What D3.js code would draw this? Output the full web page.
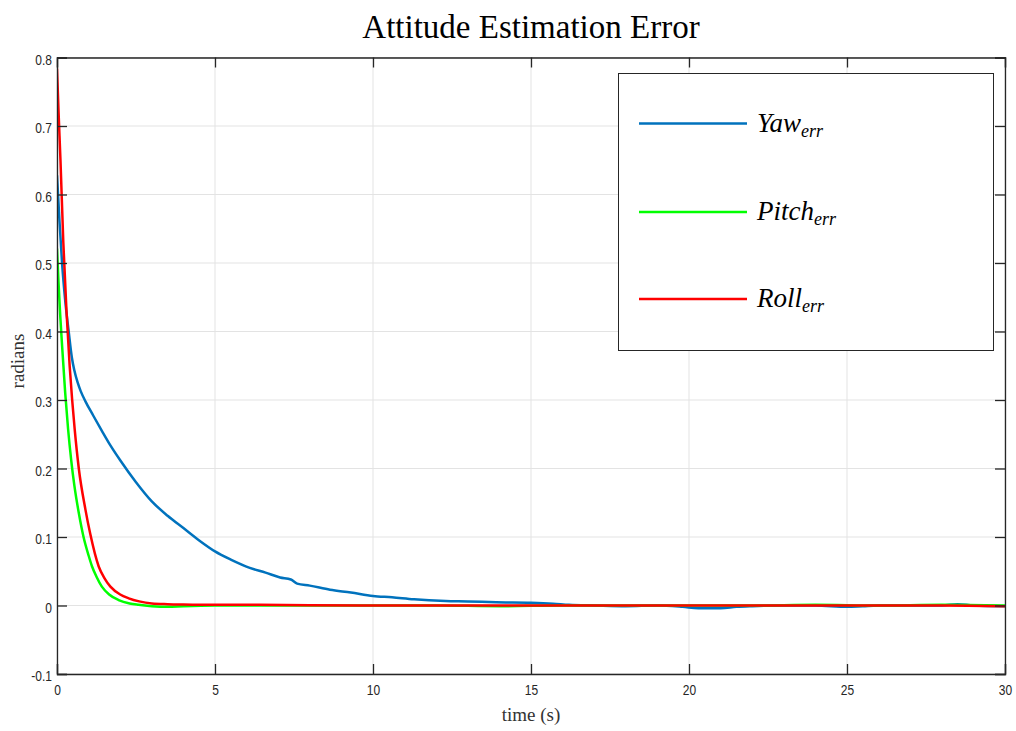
<!DOCTYPE html>
<html><head><meta charset="utf-8">
<script src="https://cdn.jsdelivr.net/npm/d3@7"></script>
<style>body{margin:0;background:#fff}</style>
</head><body>
<svg id="c" width="1016" height="731"></svg>
<script>
// ---- data ----
const xTicks = [0, 5, 10, 15, 20, 25, 30];
const yTicks = [-0.1, 0, 0.1, 0.2, 0.3, 0.4, 0.5, 0.6, 0.7, 0.8];
const yTickLabels = ["-0.1", "0", "0.1", "0.2", "0.3", "0.4", "0.5", "0.6", "0.7", "0.8"];
const seriesNames = ["Yaw", "Pitch", "Roll"];
const seriesSub = "err";

const yawT = [0, 0.08, 0.16, 0.26, 0.37, 0.47, 0.55, 0.65, 0.75, 0.9, 1.15, 1.42, 1.7, 2.0, 2.5, 3.0, 3.5, 4.0, 4.5, 5.0, 5.5, 6.1, 6.6, 7.06, 7.4, 7.6, 8.0, 8.64, 9.3, 10.0, 10.6, 11.3, 12.3, 13.0, 13.9, 15.0, 15.7, 16.2, 17, 18, 19, 19.8, 20.3, 21, 21.5, 22, 23, 24, 25, 25.5, 26, 27, 28, 28.5, 29, 30];
const yawV = [0.628, 0.56, 0.50, 0.445, 0.40, 0.362, 0.343, 0.326, 0.313, 0.298, 0.277, 0.255, 0.233, 0.212, 0.18, 0.152, 0.131, 0.113, 0.095, 0.079, 0.067, 0.055, 0.048, 0.041, 0.038, 0.032, 0.029, 0.023, 0.019, 0.014, 0.012, 0.009, 0.0066, 0.006, 0.0047, 0.004, 0.0027, 0.001, 0.0, -0.001, 0.0, -0.002, -0.004, -0.004, -0.002, -0.001, 0.0, 0.0, -0.002, -0.001, 0.0, 0.0, 0.0, 0.002, 0.0, -0.001];

const pitchT = [0, 0.05, 0.1, 0.16, 0.26, 0.35, 0.45, 0.55, 0.69, 0.84, 1.0, 1.11, 1.25, 1.42, 1.65, 1.95, 2.3, 2.58, 3.0, 3.5, 4.0, 5, 6, 8, 10, 12, 14, 16, 18, 20, 22, 24, 26, 28, 30];
const pitchV = [0.521, 0.47, 0.425, 0.38, 0.31, 0.258, 0.212, 0.175, 0.135, 0.10, 0.073, 0.057, 0.042, 0.0275, 0.016, 0.008, 0.003, 0.001, -0.001, -0.002, -0.001, 0.0, 0.0, 0.0, 0.0, 0.0, -0.001, 0.0, 0.0, 0.0, 0.0, 0.001, 0.0, 0.001, 0.0];

const rollT = [0, 0.05, 0.11, 0.2, 0.3, 0.4, 0.48, 0.56, 0.69, 0.9, 1.05, 1.32, 1.5, 1.69, 2.0, 2.27, 2.6, 3.0, 3.5, 4, 5, 6, 8, 10, 12, 14, 16, 18, 20, 22, 24, 26, 28, 30];
const rollV = [0.784, 0.72, 0.65, 0.53, 0.43, 0.35, 0.30, 0.257, 0.20, 0.14, 0.105, 0.057, 0.04, 0.0275, 0.016, 0.0105, 0.006, 0.003, 0.002, 0.0015, 0.001, 0.001, 0.0005, 0.0, 0.0, 0.0, 0.0, 0.0, 0.0, 0.0, 0.0, 0.0, 0.0, -0.001];

// ---- layout ----
const L = 57, R = 1005, T = 57.5, B = 674;
const svg = d3.select("#c");
const x = d3.scaleLinear().domain([0, 30]).range([L, R]);
const y = d3.scaleLinear().domain([-0.1, 0.8]).range([B, T]);
const axisColor = "#262626";
const colors = ["#0072BD", "#00FF00", "#FF0000"];

svg.append("rect").attr("width", 1016).attr("height", 731).attr("fill", "#fff");

// grid
const grid = svg.append("g");
grid.selectAll(".gx").data(xTicks).join("line")
  .attr("x1", d => x(d)).attr("x2", d => x(d)).attr("y1", T).attr("y2", B)
  .attr("stroke", "#e3e3e3").attr("stroke-width", 1);
grid.selectAll(".gy").data(yTicks).join("line")
  .attr("y1", d => y(d)).attr("y2", d => y(d)).attr("x1", L).attr("x2", R)
  .attr("stroke", "#e3e3e3").attr("stroke-width", 1);

// lines
svg.append("defs").append("clipPath").attr("id", "clip")
  .append("rect").attr("x", L).attr("y", T - 2).attr("width", R - L).attr("height", B - T + 2);
const line = d3.line().x(d => x(d[0])).y(d => y(d[1])).curve(d3.curveMonotoneX);
const series = [d3.zip(yawT, yawV), d3.zip(pitchT, pitchV), d3.zip(rollT, rollV)];
const lg = svg.append("g").attr("clip-path", "url(#clip)");
series.forEach((s, i) => {
  lg.append("path").datum(s).attr("d", line).attr("fill", "none")
    .attr("stroke", colors[i]).attr("stroke-width", 2.5).attr("stroke-linejoin", "round");
});

// axes
const tickFont = "'Liberation Sans', Arial, sans-serif";
const sx = 0.8;
const xAxis = d3.axisBottom(x).tickValues(xTicks).tickSize(-10).tickPadding(13).tickFormat(d3.format("d"));
const gx = svg.append("g").attr("transform", `translate(0,${B})`).call(xAxis);
const xTop = svg.append("g").attr("transform", `translate(0,${T})`).call(d3.axisTop(x).tickValues(xTicks).tickSize(-10).tickFormat(""));
const yAxis = d3.axisLeft(y).tickValues(yTicks).tickSize(-10).tickPadding(5).tickFormat((d, i) => yTickLabels[i]);
const gy = svg.append("g").attr("transform", `translate(${L},0)`).call(yAxis);
const yRight = svg.append("g").attr("transform", `translate(${R},0)`).call(d3.axisRight(y).tickValues(yTicks).tickSize(-10).tickFormat(""));

[gx, xTop, gy, yRight].forEach(g => {
  g.select(".domain").attr("stroke", axisColor).attr("stroke-width", 1.3);
  g.selectAll(".tick line").attr("stroke", axisColor).attr("stroke-width", 1.3);
});
gx.selectAll(".tick text").attr("font-family", tickFont).attr("font-size", 15).attr("fill", axisColor)
  .attr("dy", "0.55em")
  .attr("transform", "scale(" + sx + ",1)");
gy.selectAll(".tick text").attr("font-family", tickFont).attr("font-size", 15).attr("fill", axisColor)
  .attr("x", -5 / sx).attr("dy", "0.45em")
  .attr("transform", "scale(" + sx + ",1)");
svg.selectAll(".domain").attr("fill", "none");

// labels
const serif = "'Liberation Serif', 'DejaVu Serif', serif";
svg.append("text").attr("x", (L + R) / 2).attr("y", 38).attr("text-anchor", "middle")
  .attr("font-family", serif).attr("font-size", 33).attr("fill", "#000").text("Attitude Estimation Error");
svg.append("text").attr("x", (L + R) / 2).attr("y", 721).attr("text-anchor", "middle")
  .attr("font-family", serif).attr("font-size", 19).attr("fill", "#333").text("time (s)");
svg.append("text").attr("transform", "translate(24,361) rotate(-90)").attr("text-anchor", "middle")
  .attr("font-family", serif).attr("font-size", 19).attr("fill", "#333").text("radians");

// legend
const legX = 618.5, legY = 73.5, legW = 375, legH = 277;
const leg = svg.append("g");
leg.append("rect").attr("x", legX).attr("y", legY).attr("width", legW).attr("height", legH)
  .attr("fill", "#fff").attr("stroke", axisColor).attr("stroke-width", 1);
const rowY = [123.5, 212, 299];
seriesNames.forEach((n, i) => {
  leg.append("line").attr("x1", 639).attr("x2", 747).attr("y1", rowY[i]).attr("y2", rowY[i])
    .attr("stroke", colors[i]).attr("stroke-width", 2.5);
  const t = leg.append("text").attr("x", 757).attr("y", rowY[i] + 8)
    .attr("font-family", serif).attr("font-style", "italic").attr("font-size", 27).attr("fill", "#000");
  t.append("tspan").text(n);
  t.append("tspan").attr("font-size", 18).attr("dy", 5).text(seriesSub);
});
</script>
</body></html>
